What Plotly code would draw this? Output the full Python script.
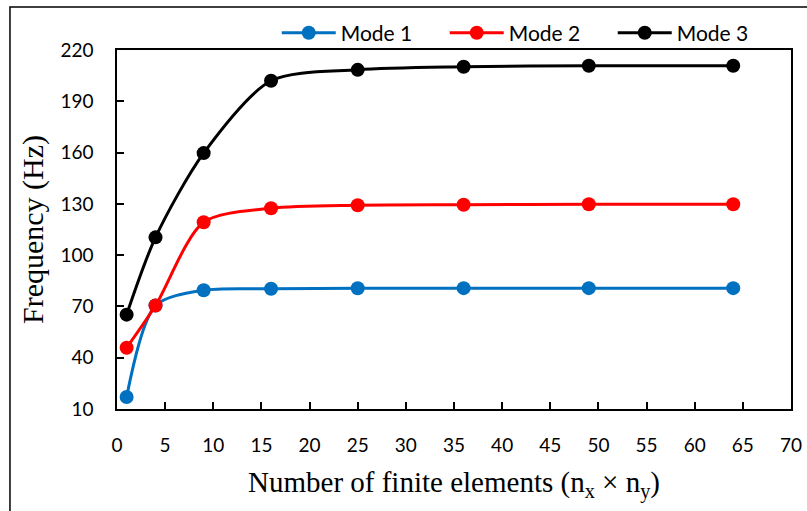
import plotly.graph_objects as go

# Mesh size (number of elements) and natural frequencies of the first three modes
elements = [1, 4, 9, 16, 25, 36, 49, 64]
mode1 = [17.0, 70.5, 79.5, 80.3, 80.6, 80.7, 80.7, 80.7]
mode2 = [45.8, 70.5, 119.2, 127.4, 129.2, 129.5, 129.8, 129.8]
mode3 = [65.2, 110.4, 159.7, 202.0, 208.4, 210.2, 210.8, 210.8]

series = [("Mode 1", mode1, "#0070C0"),
          ("Mode 2", mode2, "#FF0000"),
          ("Mode 3", mode3, "#000000")]

fig = go.Figure()
for name, vals, color in series:
    fig.add_trace(go.Scatter(
        x=elements, y=vals, name=name, mode="lines+markers",
        line=dict(color=color, width=3, shape="spline", smoothing=0.8),
        marker=dict(color=color, size=14),
    ))

tick_font = dict(family="Lato, Carlito, Calibri, sans-serif", size=19, color="#000000")
serif = "Liberation Serif, Times New Roman, serif"

fig.update_layout(
    width=807, height=511,
    margin=dict(l=117, r=16, t=50, b=102, autoexpand=False),
    paper_bgcolor="white", plot_bgcolor="white",
    showlegend=True,
    legend=dict(orientation="h", x=0.237, y=1.047, xanchor="left", yanchor="middle",
                font=dict(family="Lato, Carlito, Calibri, sans-serif", size=21, color="#000000"),
                itemwidth=54, entrywidth=99, entrywidthmode="pixels",
                bgcolor="rgba(0,0,0,0)"),
    xaxis=dict(range=[0, 70], tickmode="linear", tick0=0, dtick=5,
               showgrid=False, zeroline=False, showline=True, linecolor="black", linewidth=1.5,
               mirror=True, ticks="inside", ticklen=7, tickcolor="black", tickwidth=1.5,
               tickfont=tick_font, ticklabelstandoff=18,
               title=dict(text="Number of finite elements (n<sub>x</sub> × n<sub>y</sub>)",
                          font=dict(family=serif, size=29, color="#000000"), standoff=17)),
    yaxis=dict(range=[10, 220], tickmode="linear", tick0=10, dtick=30,
               showgrid=False, zeroline=False, showline=True, linecolor="black", linewidth=1.5,
               mirror=True, ticks="inside", ticklen=7, tickcolor="black", tickwidth=1.5,
               tickfont=tick_font, ticklabelstandoff=18,
               title=dict(text="Frequency (Hz)",
                          font=dict(family=serif, size=30, color="#000000"), standoff=8)),
)

# Outer chart frame
fig.add_shape(type="rect", xref="paper", yref="paper",
              x0=-0.1588, x1=1.05, y0=-0.4, y1=1.1198,
              line=dict(color="black", width=1.5), fillcolor="rgba(0,0,0,0)", layer="below")

fig.write_html("out.html")
